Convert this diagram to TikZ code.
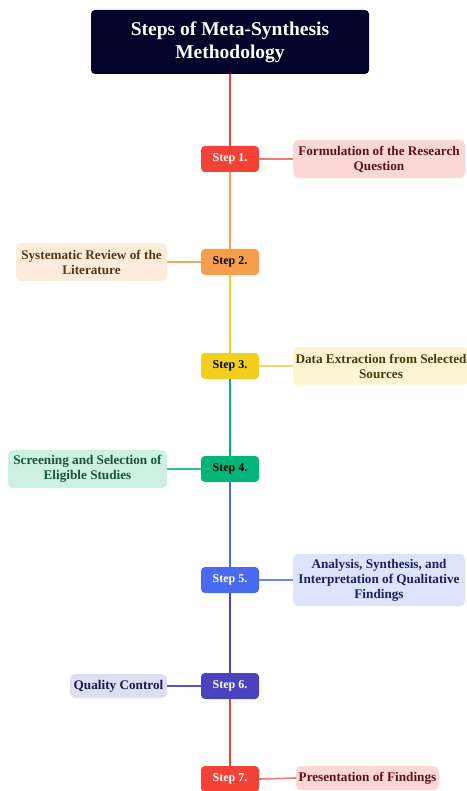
\documentclass[tikz,border=0pt]{standalone}
\usepackage{fontspec}
\setmainfont{Liberation Serif}
\definecolor{titlebg}{HTML}{03032A}
\definecolor{c1}{HTML}{F44336}\definecolor{l1}{HTML}{FDD7D6}\definecolor{t1}{HTML}{5A1418}\definecolor{k1}{HTML}{F77A72}
\definecolor{c2}{HTML}{F79E4C}\definecolor{l2}{HTML}{FDEBDC}\definecolor{t2}{HTML}{5A3614}\definecolor{k2}{HTML}{F7A45A}
\definecolor{c3}{HTML}{F2CE1F}\definecolor{l3}{HTML}{FDF4D2}\definecolor{t3}{HTML}{4A3A0E}\definecolor{k3}{HTML}{F4D660}
\definecolor{c4}{HTML}{00B57A}\definecolor{l4}{HTML}{CCF0E2}\definecolor{t4}{HTML}{17563E}\definecolor{k4}{HTML}{2EC08E}
\definecolor{c5}{HTML}{4A6AF2}\definecolor{l5}{HTML}{DCE3FB}\definecolor{t5}{HTML}{1A2262}\definecolor{k5}{HTML}{6A84F2}
\definecolor{c6}{HTML}{4B43BD}\definecolor{l6}{HTML}{DDDDF3}\definecolor{t6}{HTML}{1C1A4C}\definecolor{k6}{HTML}{5A54C4}
\tikzset{
  stepbox/.style={rounded corners=4pt, minimum width=58pt, minimum height=26pt, inner sep=0pt,
    font=\fontsize{12}{14}\selectfont\bfseries},
  lab/.style={rounded corners=5pt, inner sep=0pt, align=center,
    font=\fontsize{13.2}{15}\selectfont\bfseries},
  trunk/.style={line width=1.6pt},
  conn/.style={line width=1.6pt},
}
\begin{document}
\begin{tikzpicture}[x=1pt,y=-1pt]
\useasboundingbox (0,0) rectangle (466,791);
% title
\node[fill=titlebg, rounded corners=4pt, minimum width=278pt, minimum height=64pt, inner sep=0pt,
  text=white, align=center, font=\fontsize{19.5}{23}\selectfont\bfseries] (title) at (230,42)
  {Steps of Meta-Synthesis\\Methodology};
% steps
\node[stepbox, fill=c1, text=white] (s1) at (230,159) {Step 1.};
\node[stepbox, fill=c2, text=black] (s2) at (230,262) {Step 2.};
\node[stepbox, fill=c3, text=black] (s3) at (230,366) {Step 3.};
\node[stepbox, fill=c4, text=black] (s4) at (230,469) {Step 4.};
\node[stepbox, fill=c5, text=white] (s5) at (230,580) {Step 5.};
\node[stepbox, fill=c6, text=white] (s6) at (230,686) {Step 6.};
\node[stepbox, fill=c1, text=white] (s7) at (230,779) {Step 7.};
% labels
\node[lab, fill=l1, text=t1, minimum width=172pt, minimum height=38pt] (a1) at (379,159) {Formulation of the Research\\Question};
\node[lab, fill=l2, text=t2, minimum width=151pt, minimum height=38pt] (a2) at (91.5,262) {Systematic Review of the\\Literature};
\node[lab, fill=l3, text=t3, minimum width=176pt, minimum height=38pt] (a3) at (381,366) {Data Extraction from Selected\\Sources};
\node[lab, fill=l4, text=t4, minimum width=159pt, minimum height=38pt] (a4) at (87.5,469) {Screening and Selection of\\Eligible Studies};
\node[lab, fill=l5, text=t5, minimum width=172pt, minimum height=52pt] (a5) at (379,580) {Analysis, Synthesis, and\\Interpretation of Qualitative\\Findings};
\node[lab, fill=l6, text=t6, minimum width=97pt, minimum height=24pt] (a6) at (118.5,686) {Quality Control};
\node[lab, fill=l1, text=t1, minimum width=143pt, minimum height=24pt] (a7) at (367.5,778) {Presentation of Findings};
% trunk
\draw[trunk, draw=c1] (title.south) -- (s1.north);
\draw[trunk, draw=c2] (s1.south) -- (s2.north);
\draw[trunk, draw=c3] (s2.south) -- (s3.north);
\draw[trunk, draw=c4] (s3.south) -- (s4.north);
\draw[trunk, draw=c5] (s4.south) -- (s5.north);
\draw[trunk, draw=c6] (s5.south) -- (s6.north);
\draw[trunk, draw=c1] (s6.south) -- (s7.north);
% connectors
\draw[conn, draw=k1] (s1.east) -- (a1.west);
\draw[conn, draw=k2] (s2.west) -- (a2.east);
\draw[conn, draw=k3] (s3.east) -- (a3.west);
\draw[conn, draw=k4] (s4.west) -- (a4.east);
\draw[conn, draw=k5] (s5.east) -- (a5.west);
\draw[conn, draw=k6] (s6.west) -- (a6.east);
\draw[conn, draw=k1] (s7.east) -- (a7.west);
\end{tikzpicture}
\end{document}
